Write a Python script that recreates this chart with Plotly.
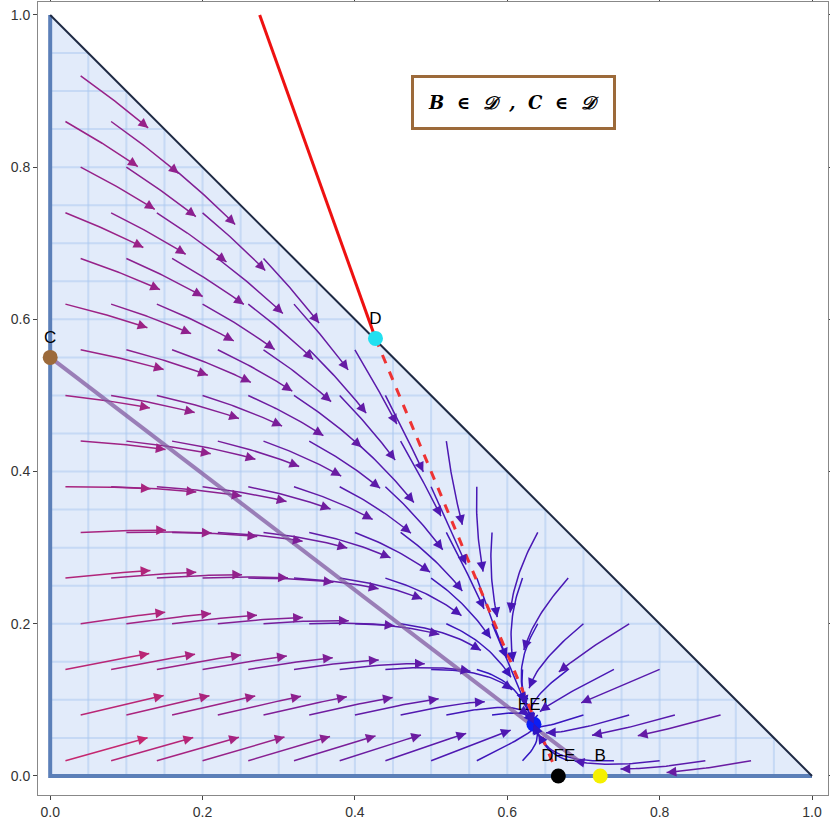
import numpy as np
import plotly.graph_objects as go

# equilibrium points
pt_names = ["C", "D", "EE1", "DFE", "B"]
pt_x = [0.0, 0.427, 0.635, 0.667, 0.722]
pt_y = [0.55, 0.575, 0.068, 0.0, 0.0]
pt_colors = ["#9c6a3a", "#22e0f0", "#0a1ef5", "#000000", "#f5f000"]
# nullcline (red) and invariant line (purple)
red_x = [0.275, 0.427, 0.667]
red_y = [1.0, 0.575, 0.0]
purple_x = [0.0, 0.70]
purple_y = [0.55, 0.015]

E = np.array([pt_x[2], pt_y[2]])
d = np.array([red_x[2]-red_x[1], red_y[2]-red_y[1]]); d /= np.linalg.norm(d)
n = np.array([-d[1], d[0]]);
if n[0] < 0: n = -n
M = 1.0*np.outer(n, n) + 0.35*np.outer(d, d)

def field(p):
    return -M @ (p - E)

fig = go.Figure()
fig.add_trace(go.Scatter(x=[0, 1, 0, 0], y=[0, 0, 1, 0], fill="toself",
    fillcolor="rgba(190,210,245,0.45)", line=dict(width=0), mode="lines", hoverinfo="skip"))
for v in np.arange(0.05, 1.0, 0.05):
    fig.add_trace(go.Scatter(x=[0, 1-v], y=[v, v], mode="lines", line=dict(color="rgba(170,200,240,0.5)", width=2), hoverinfo="skip"))
    fig.add_trace(go.Scatter(x=[v, v], y=[0, 1-v], mode="lines", line=dict(color="rgba(170,200,240,0.5)", width=2), hoverinfo="skip"))

def col(s):
    t = min(max(s/0.6, 0), 1)
    c0 = np.array([40, 20, 200]); c1 = np.array([200, 40, 110])
    c = (1-t)*c0 + t*c1
    return "rgb(%d,%d,%d)" % tuple(c)

ann = []
seeds = []
step = 0.06
for i in range(17):
    for j in range(17):
        x = 0.02 + i*step + (0.02 if j % 2 else 0)
        y = 0.02 + j*step
        if x + y < 0.97:
            seeds.append((x, y))
for sx, sy in seeds:
    p = np.array([sx, sy]); pts = [p.copy()]
    L = 0.0
    while L < 0.11:
        v = field(p); s = np.linalg.norm(v)
        if s < 1e-3: break
        dp = v/s*0.004
        p = p + dp; L += 0.004
        if p[0] < 0 or p[1] < 0 or p[0]+p[1] > 1: break
        pts.append(p.copy())
    if len(pts) < 5: continue
    pts = np.array(pts)
    c = col(np.linalg.norm(field(pts[0])))
    fig.add_trace(go.Scatter(x=pts[:, 0], y=pts[:, 1], mode="lines", line=dict(color=c, width=1.5), hoverinfo="skip"))
    ann.append(dict(x=pts[-1, 0], y=pts[-1, 1], ax=pts[-4, 0], ay=pts[-4, 1], xref="x", yref="y", axref="x", ayref="y",
                    showarrow=True, arrowhead=2, arrowsize=1.3, arrowwidth=1.5, arrowcolor=c, text=""))

fig.add_trace(go.Scatter(x=[0, 0, 1], y=[1, 0, 0], mode="lines", line=dict(color="#5b7fb8", width=4), hoverinfo="skip"))
fig.add_trace(go.Scatter(x=[0, 1], y=[1, 0], mode="lines", line=dict(color="#1f2a44", width=2), hoverinfo="skip"))
fig.add_trace(go.Scatter(x=purple_x, y=purple_y, mode="lines", line=dict(color="rgba(130,90,160,0.75)", width=4), hoverinfo="skip"))
fig.add_trace(go.Scatter(x=red_x[:2], y=red_y[:2], mode="lines", line=dict(color="#ee1111", width=3), hoverinfo="skip"))
fig.add_trace(go.Scatter(x=red_x[1:], y=red_y[1:], mode="lines", line=dict(color="#ee3333", width=3, dash="dash"), hoverinfo="skip"))
fig.add_trace(go.Scatter(x=pt_x, y=pt_y, mode="markers+text", text=pt_names, textposition="top center",
    textfont=dict(family="Liberation Sans", size=17, color="black"),
    marker=dict(color=pt_colors, size=15), hoverinfo="skip"))

ann.append(dict(x=0.608, y=0.885, xref="x", yref="y", showarrow=False,
    text="<b><i>B  ∈  𝒟  ,  C  ∈  𝒟</i></b>", font=dict(size=18, family="DejaVu Serif", color="black"),
    bordercolor="#9c6a3a", borderwidth=3, borderpad=14, bgcolor="white"))

fig.update_layout(width=830, height=824, showlegend=False, plot_bgcolor="white", paper_bgcolor="white",
    margin=dict(l=38, r=2, t=2, b=29, autoexpand=False), annotations=ann)
ax = dict(showgrid=False, zeroline=False, showline=True, mirror="ticks", linecolor="#888", ticks="outside", ticklen=4,
          automargin=False,
          tickvals=[0, 0.2, 0.4, 0.6, 0.8, 1.0], ticktext=["0.0", "0.2", "0.4", "0.6", "0.8", "1.0"],
          tickfont=dict(family="Liberation Sans", size=14, color="#333"))
fig.update_xaxes(range=[-0.016, 1.021], **ax)
fig.update_yaxes(range=[-0.025, 1.017], **ax)
fig.write_html("out.html", config={"displayModeBar": False},
               post_script="document.body.style.margin='0px';document.body.style.overflow='hidden';")
